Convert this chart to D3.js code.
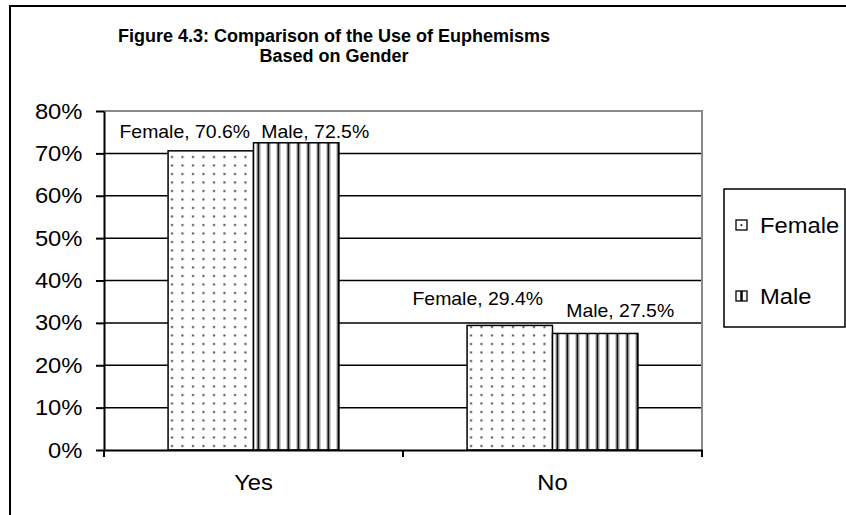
<!DOCTYPE html>
<html>
<head>
<meta charset="utf-8">
<script src="https://cdn.jsdelivr.net/npm/d3@7"></script>
<style>
  html, body { margin: 0; padding: 0; background: #fff; }
  svg { display: block; }
  text { font-family: "Liberation Sans", Arial, sans-serif; fill: #000; }
</style>
</head>
<body>
<svg id="chart" width="846" height="515"></svg>
<script>
// ---- data ----
const categories = ["Yes", "No"];
const seriesNames = ["Female", "Male"];
const femaleValues = [70.6, 29.4];
const maleValues = [72.5, 27.5];
const yTickValues = [0, 10, 20, 30, 40, 50, 60, 70, 80];
const titleLines = ["Figure 4.3: Comparison of the Use of Euphemisms", "Based on Gender"];

// ---- layout ----
const W = 846, H = 515;
const plot = { left: 104, top: 111, right: 702, bottom: 450 };
const gapWidth = 1.5;          // space between groups, as a fraction of a bar
const textStretch = 1.08;      // the chart's text is set slightly wide
// hand-placed data labels: horizontal shift from bar centre, baseline offset from bar top
const labelNudge = {
  Female: [{ dx: -26, dy: -13 }, { dx: -32, dy: -20 }],
  Male:   [{ dx: 19, dy: -5 },   { dx: 25, dy: -16 }]
};

const rows = categories.map((c, i) => ({
  category: c,
  values: [
    { series: "Female", value: femaleValues[i], idx: i },
    { series: "Male", value: maleValues[i], idx: i }
  ]
}));

const svg = d3.select("#chart");
const defs = svg.append("defs");

// dotted fill for Female
const dots = defs.append("pattern").attr("id", "dots")
  .attr("patternUnits", "userSpaceOnUse").attr("width", 10.5).attr("height", 8.5);
dots.append("rect").attr("width", 10.5).attr("height", 8.5).attr("fill", "#fff");
dots.append("rect").attr("x", 4).attr("y", 3).attr("width", 2).attr("height", 2).attr("fill", "#444");

// vertical stripes for Male
const stripes = defs.append("pattern").attr("id", "stripes")
  .attr("patternUnits", "userSpaceOnUse").attr("width", 10).attr("height", 10);
stripes.append("rect").attr("width", 10).attr("height", 10).attr("fill", "#fff");
stripes.append("rect").attr("x", 2.5).attr("width", 1).attr("height", 10).attr("fill", "#999");
stripes.append("rect").attr("x", 3.5).attr("width", 2).attr("height", 10).attr("fill", "#111");
stripes.append("rect").attr("x", 5.5).attr("width", 1).attr("height", 10).attr("fill", "#999");

const fills = { Female: "url(#dots)", Male: "url(#stripes)" };

svg.append("rect").attr("width", W).attr("height", H).attr("fill", "#fff");

// outer chart frame (runs past the right and bottom edges)
svg.append("path")
  .attr("d", `M10,${H + 5} L10,6 L${W + 5},6`)
  .attr("fill", "none").attr("stroke", "#000").attr("stroke-width", 2);

// ---- scales ----
const x0 = d3.scaleBand().domain(categories).range([plot.left, plot.right]).padding(0);
const barW = x0.bandwidth() / (seriesNames.length + gapWidth);
const x1 = d3.scaleBand().domain(seriesNames)
  .range([barW * gapWidth / 2, x0.bandwidth() - barW * gapWidth / 2]).padding(0);
const y = d3.scaleLinear().domain([0, 80]).range([plot.bottom, plot.top]);

// ---- gridlines ----
svg.append("g").selectAll("line")
  .data(yTickValues.filter(v => v > 0 && v < 80))
  .join("line")
  .attr("x1", plot.left).attr("x2", plot.right)
  .attr("y1", d => y(d)).attr("y2", d => y(d))
  .attr("stroke", "#000").attr("stroke-width", 1.5);

// plot-area border, top and right
svg.append("path")
  .attr("d", `M${plot.left},${y(80)} L${plot.right},${y(80)} L${plot.right},${plot.bottom}`)
  .attr("fill", "none").attr("stroke", "#8a8a8a").attr("stroke-width", 2);

// ---- bars ----
const groups = svg.append("g").selectAll("g")
  .data(rows).join("g")
  .attr("transform", d => `translate(${x0(d.category)},0)`);

groups.selectAll("rect")
  .data(d => d.values).join("rect")
  .attr("x", d => x1(d.series))
  .attr("y", d => y(d.value))
  .attr("width", x1.bandwidth())
  .attr("height", d => y(0) - y(d.value))
  .attr("fill", d => fills[d.series])
  .attr("stroke", "#000").attr("stroke-width", 1.5);

// data labels
groups.selectAll("text.label")
  .data(d => d.values).join("text")
  .attr("class", "label")
  .attr("text-anchor", "middle")
  .attr("font-size", 18)
  .attr("transform", d => {
    const n = labelNudge[d.series][d.idx];
    const cx = x1(d.series) + x1.bandwidth() / 2 + n.dx;
    return `translate(${cx},${y(d.value) + n.dy}) scale(${textStretch},1)`;
  })
  .text(d => `${d.series}, ${d.value.toFixed(1)}%`);

// ---- y axis ----
const yAxis = svg.append("g")
  .attr("transform", `translate(${plot.left},0)`)
  .call(d3.axisLeft(y).tickValues(yTickValues).tickFormat(d => d + "%")
    .tickSize(8).tickSizeOuter(0).tickPadding(12));
yAxis.attr("font-family", null);
yAxis.select(".domain").attr("stroke", "#000").attr("stroke-width", 2);
yAxis.selectAll(".tick line").attr("stroke", "#000").attr("stroke-width", 2);
yAxis.selectAll(".tick text")
  .attr("font-size", 22)
  .attr("transform", `scale(${textStretch},1)`);

// ---- x axis ----
const xAxis = svg.append("g")
  .attr("transform", `translate(0,${plot.bottom})`)
  .call(d3.axisBottom(x0).tickSize(0).tickPadding(24));
xAxis.attr("font-family", null);
xAxis.select(".domain").attr("stroke", "#000").attr("stroke-width", 2);
xAxis.selectAll(".tick text")
  .attr("font-size", 22)
  .attr("transform", `scale(${textStretch},1)`);
// category boundary ticks
const boundaries = categories.map(c => x0(c)).concat([x0.range()[1]]);
xAxis.append("g").selectAll("line")
  .data(boundaries).join("line")
  .attr("x1", d => d).attr("x2", d => d)
  .attr("y1", 0).attr("y2", 7)
  .attr("stroke", "#000").attr("stroke-width", 2);

// ---- title ----
svg.append("g").selectAll("text")
  .data(titleLines).join("text")
  .attr("x", 334)
  .attr("y", (d, i) => 42 + i * 20)
  .attr("text-anchor", "middle")
  .attr("font-size", 18)
  .attr("font-weight", "bold")
  .text(d => d);

// ---- legend ----
const legend = svg.append("g").attr("transform", "translate(724,189)");
legend.append("rect")
  .attr("width", 121).attr("height", 138)
  .attr("fill", "#fff").attr("stroke", "#000").attr("stroke-width", 1.5);

const legendItems = legend.selectAll("g.item")
  .data(seriesNames).join("g")
  .attr("class", "item")
  .attr("transform", (d, i) => `translate(12,${36 + i * 71})`);

legendItems.append("rect")
  .attr("x", 0).attr("y", -5).attr("width", 11).attr("height", 10)
  .attr("fill", "#fff").attr("stroke", "#000").attr("stroke-width", 1.3);
legendItems.filter(d => d === "Female").append("rect")
  .attr("x", 4.5).attr("y", -0.8).attr("width", 1.8).attr("height", 1.8).attr("fill", "#222");
legendItems.filter(d => d === "Male").append("rect")
  .attr("x", 4.3).attr("y", -5).attr("width", 2.4).attr("height", 10).attr("fill", "#000");

legendItems.append("text")
  .attr("transform", `translate(24,8) scale(${textStretch},1)`)
  .attr("font-size", 22)
  .text(d => d);
</script>
</body>
</html>
